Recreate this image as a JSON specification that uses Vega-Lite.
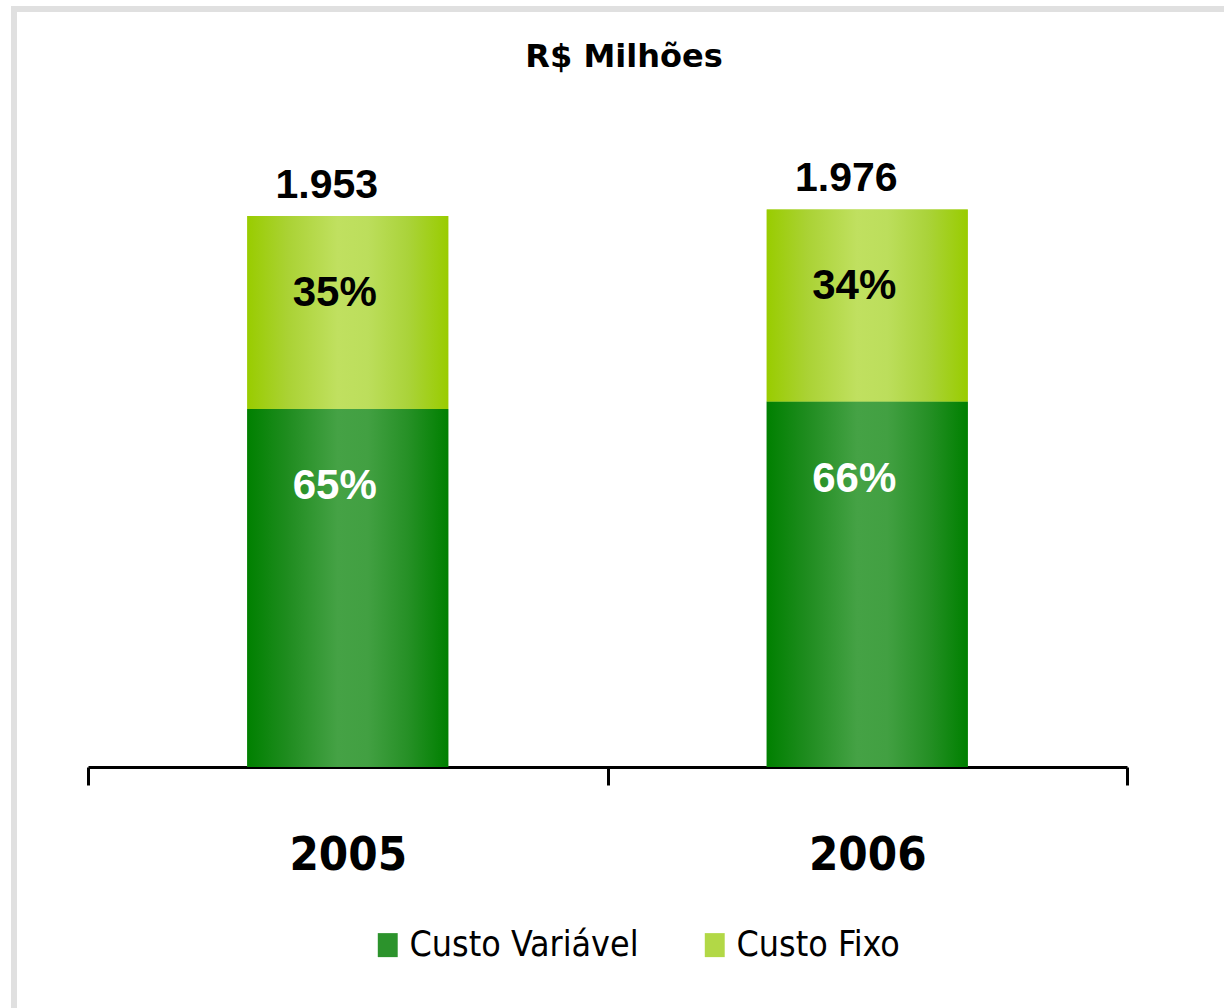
{
  "$schema": "https://vega.github.io/schema/vega-lite/v6.json",
  "width": 1220,
  "height": 1009,
  "autosize": {"type": "none"},
  "padding": {"left": 14, "top": 9, "right": 0, "bottom": 0},
  "background": "white",
  "config": {
    "view": {"stroke": "#e0e0e0", "strokeWidth": 6, "fill": "white"},
    "locale": {"number": {"decimal": ",", "thousands": ".", "grouping": [3], "currency": ["R$", ""]}}
  },
  "title": {
    "text": "R$ Milhões",
    "font": "DejaVu Sans",
    "fontWeight": "bold",
    "fontSize": 32,
    "color": "black",
    "anchor": "middle",
    "baseline": "alphabetic",
    "offset": -90
  },
  "data": {
    "values": [
      {"ano": "2005", "tipo": "Custo Variável", "valor": 1269, "pct": 0.65},
      {"ano": "2005", "tipo": "Custo Fixo", "valor": 684, "pct": 0.35},
      {"ano": "2006", "tipo": "Custo Variável", "valor": 1295, "pct": 0.66},
      {"ano": "2006", "tipo": "Custo Fixo", "valor": 681, "pct": 0.34}
    ]
  },
  "transform": [
    {"stack": "valor", "groupby": ["ano"], "sort": [{"field": "tipo", "order": "descending"}], "as": ["v0", "v1"]}
  ],
  "encoding": {
    "x": {
      "field": "ano",
      "type": "nominal",
      "scale": {"range": [74, 1113], "paddingInner": 0, "paddingOuter": 0},
      "axis": {
        "title": null,
        "labelAngle": 0,
        "orient": "bottom",
        "offset": -251,
        "tickBand": "extent",
        "domainColor": "black",
        "domainWidth": 3,
        "tickColor": "black",
        "tickWidth": 3,
        "tickSize": 18,
        "labelFont": "'DejaVu Sans Condensed', 'DejaVu Sans'",
        "labelFontWeight": "bold",
        "labelFontSize": 47,
        "labelColor": "black",
        "labelPadding": 47,
        "grid": false
      }
    },
    "y": {"field": "v1", "type": "quantitative", "scale": {"domain": [0, 2000], "range": [758, 193.7]}, "axis": null}
  },
  "layer": [
    {
      "mark": {"type": "bar", "width": {"band": 0.387}},
      "encoding": {
        "y2": {"field": "v0"},
        "color": {
          "field": "tipo",
          "type": "nominal",
          "scale": {"domain": ["Custo Variável", "Custo Fixo"], "range": ["#2c932c", "#b2d846"]},
          "legend": {
            "orient": "none",
            "legendX": 356,
            "legendY": 918,
            "direction": "horizontal",
            "title": null,
            "labelFont": "'DejaVu Sans Condensed', 'DejaVu Sans'",
            "labelFontSize": 35.5,
            "labelColor": "black",
            "labelLimit": 500,
            "labelOffset": 4,
            "symbolType": "M-0.83,-1H0.83V1H-0.83Z",
            "symbolSize": 576,
            "symbolStrokeWidth": 0,
            "symbolOpacity": 1,
            "columnPadding": 58
          }
        }
      }
    },
    {
      "mark": {"type": "bar", "width": {"band": 0.387}},
      "encoding": {
        "y2": {"field": "v0"},
        "color": {
          "condition": {
            "test": "datum.tipo === 'Custo Variável'",
            "value": {"gradient": "linear", "x1": 0, "y1": 0, "x2": 1, "y2": 0, "stops": [
              {"offset": 0, "color": "#008000"},
              {"offset": 0.2, "color": "#1f8c1f"},
              {"offset": 0.45, "color": "#45a245"},
              {"offset": 0.6, "color": "#42a042"},
              {"offset": 0.8, "color": "#269026"},
              {"offset": 1, "color": "#008000"}
            ]}
          },
          "value": {"gradient": "linear", "x1": 0, "y1": 0, "x2": 1, "y2": 0, "stops": [
            {"offset": 0, "color": "#99cc00"},
            {"offset": 0.2, "color": "#aad234"},
            {"offset": 0.45, "color": "#c0e060"},
            {"offset": 0.6, "color": "#bcde5c"},
            {"offset": 0.8, "color": "#aad33a"},
            {"offset": 1, "color": "#99cc00"}
          ]}
        }
      }
    },
    {
      "mark": {"type": "text", "dy": 77, "dx": -13, "baseline": "middle", "font": "Liberation Sans", "fontWeight": "bold", "fontSize": 42},
      "encoding": {
        "text": {"field": "pct", "type": "quantitative", "format": ".0%"},
        "color": {"condition": {"test": "datum.tipo === 'Custo Variável'", "value": "white"}, "value": "black"}
      }
    },
    {
      "transform": [{"aggregate": [{"op": "sum", "field": "valor", "as": "total"}], "groupby": ["ano"]}],
      "mark": {"type": "text", "dy": -30, "dx": -21, "baseline": "middle", "font": "Liberation Sans", "fontWeight": "bold", "fontSize": 41, "color": "black"},
      "encoding": {
        "y": {"field": "total", "type": "quantitative"},
        "text": {"field": "total", "type": "quantitative", "format": ",.0f"}
      }
    }
  ]
}
